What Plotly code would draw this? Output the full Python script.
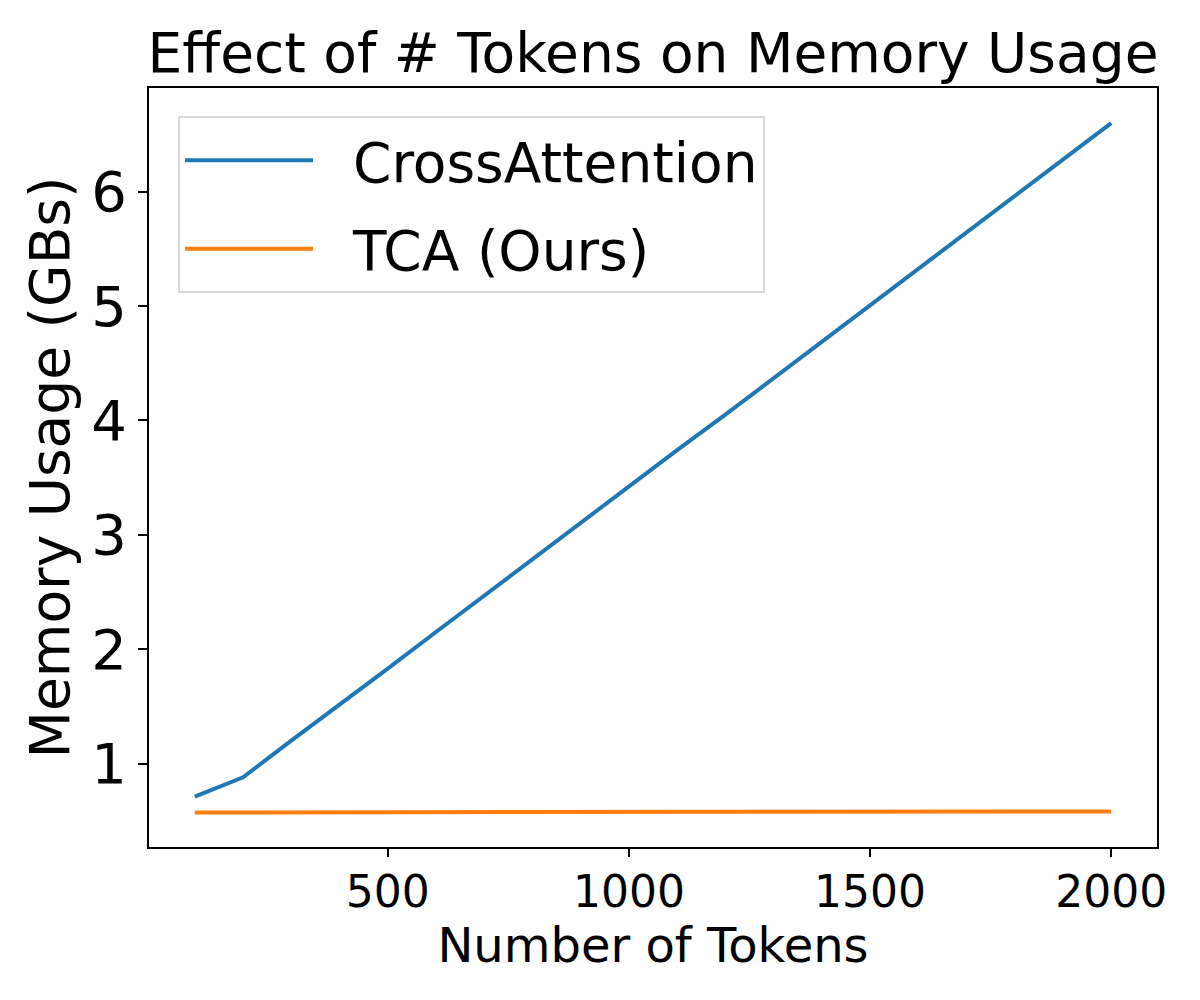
import plotly.graph_objects as go

tokens = [100, 200, 300, 400, 500, 600, 700, 800, 900, 1000,
          1100, 1200, 1300, 1400, 1500, 1600, 1700, 1800, 1900, 2000]
cross_attention = [0.71, 0.88, 1.20, 1.51, 1.83, 2.15, 2.47, 2.79, 3.10, 3.42,
                   3.74, 4.05, 4.37, 4.69, 5.01, 5.33, 5.64, 5.96, 6.28, 6.60]
tca = [0.572, 0.573, 0.574, 0.574, 0.575, 0.575, 0.576, 0.576, 0.577, 0.577,
       0.578, 0.578, 0.578, 0.579, 0.579, 0.579, 0.579, 0.580, 0.580, 0.580]
xtick_vals = [500, 1000, 1500, 2000]
ytick_vals = [1, 2, 3, 4, 5, 6]
series_names = ["CrossAttention", "TCA (Ours)"]

FONT = "DejaVu Sans"
PAD = "\u00a0\u00a0"

fig = go.Figure()
fig.add_trace(go.Scatter(x=tokens, y=cross_attention, mode="lines",
                         name=PAD + series_names[0], legendgroup="a",
                         line=dict(color="#1f77b4", width=4)))
fig.add_trace(go.Scatter(x=tokens, y=tca, mode="lines",
                         name=PAD + series_names[1], legendgroup="b",
                         line=dict(color="#ff7f0e", width=4)))

fig.update_layout(
    width=1200, height=1000,
    margin=dict(l=141, r=51, t=80, b=161),
    paper_bgcolor="white", plot_bgcolor="white",
    font=dict(family=FONT, color="black"),
    title=dict(text="Effect of # Tokens on Memory Usage",
               font=dict(family=FONT, size=55, color="black"),
               x=0.5, xref="paper", xanchor="center",
               y=0.955, yref="container", yanchor="middle"),
    legend=dict(x=0.0288, y=0.963, xanchor="left", yanchor="top",
                bgcolor="white", bordercolor="#d9d9d9", borderwidth=2,
                font=dict(family=FONT, size=55, color="black"),
                itemwidth=128, tracegroupgap=14, traceorder="grouped"),
    showlegend=True,
)
fig.update_xaxes(range=[5, 2095], tickvals=xtick_vals,
                 ticks="outside", ticklen=8, tickwidth=2, tickcolor="black",
                 ticklabelstandoff=-3,
                 showline=True, linecolor="black", linewidth=2, mirror=True,
                 showgrid=False, zeroline=False,
                 tickfont=dict(family=FONT, size=44, color="black"),
                 title=dict(text="Number of Tokens",
                            font=dict(family=FONT, size=48, color="black"),
                            standoff=8))
fig.update_yaxes(range=[0.27, 6.907], tickvals=ytick_vals,
                 ticks="outside", ticklen=9, tickwidth=2, tickcolor="black",
                 showline=True, linecolor="black", linewidth=2, mirror=True,
                 showgrid=False, zeroline=False,
                 tickfont=dict(family=FONT, size=56, color="black"),
                 title=dict(text="Memory Usage (GBs)",
                            font=dict(family=FONT, size=55, color="black"),
                            standoff=4))

fig.write_html("out.html")
